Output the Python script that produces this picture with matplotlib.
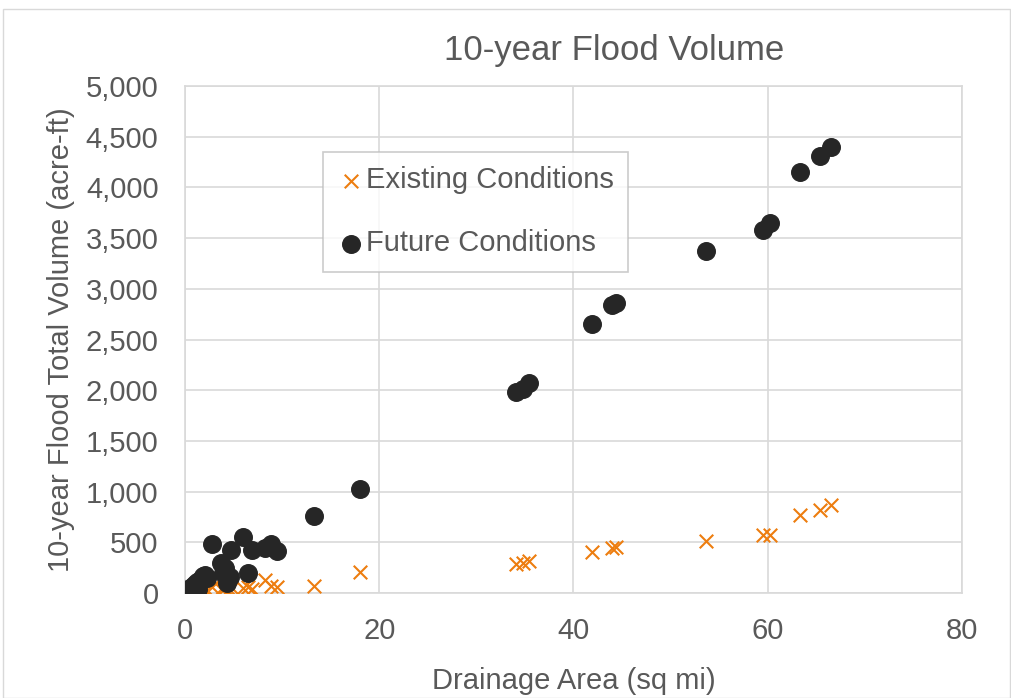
import matplotlib.pyplot as plt
from matplotlib.patches import Rectangle
from matplotlib.ticker import FuncFormatter

plt.rcParams["font.family"] = ["Liberation Sans", "DejaVu Sans"]

# drainage area (sq mi), same sites for both scenarios
area = [0.3, 0.5, 0.8, 1.0, 1.2, 1.3, 1.5, 1.9, 2.1, 2.3, 2.8, 3.7, 3.9, 4.1, 4.3,
        4.6, 4.7, 6.0, 6.5, 6.9, 8.2, 8.9, 9.5, 13.3, 18.0, 34.1, 34.8, 35.4,
        41.9, 44.0, 44.4, 53.6, 59.5, 60.2, 63.3, 65.4, 66.5]
future = [20, 50, 70, 90, 110, 40, 130, 170, 180, 150, 480, 300, 200, 250, 100,
          160, 420, 550, 200, 420, 440, 480, 415, 760, 1025, 1980, 2010, 2070,
          2650, 2840, 2860, 3370, 3580, 3650, 4150, 4310, 4400]
existing = [5, 10, 15, 20, 25, 10, 30, 35, 40, 30, 60, 40, 50, 45, 20,
            30, 60, 50, 60, 40, 125, 70, 55, 70, 210, 285, 300, 320,
            400, 440, 450, 510, 570, 570, 770, 820, 870]

TEXT = "#595959"
GRID = "#d9d9d9"

fig = plt.figure(figsize=(10.11, 6.98), dpi=100)
fig.patches.append(Rectangle((0.003, 0.0), 0.996, 0.987, transform=fig.transFigure,
                             fill=False, edgecolor=GRID, linewidth=1))
ax = fig.add_axes([0.183, 0.1504, 0.7685, 0.7264])

ax.scatter(area, existing, marker="x", s=95, color="#ED7D0F", linewidths=1.5,
           label="Existing Conditions", zorder=3)
ax.scatter(area, future, marker="o", s=160, color="#262626",
           label="Future Conditions", zorder=3)

ax.set_xlim(0, 80)
ax.set_ylim(0, 5000)
ax.set_xticks(range(0, 81, 20))
ax.set_yticks(range(0, 5001, 500))
ax.yaxis.set_major_formatter(FuncFormatter(lambda v, p: f"{int(v):,}"))
ax.grid(True, color=GRID, linewidth=1.2)
ax.set_axisbelow(True)
for s in ax.spines.values():
    s.set_color(GRID)
    s.set_linewidth(1.2)
ax.tick_params(length=0, labelsize=21, colors=TEXT)
ax.tick_params(axis="x", pad=17)
ax.tick_params(axis="y", pad=19)

ax.set_xlabel("Drainage Area (sq mi)", fontsize=21, color=TEXT, labelpad=16)
ax.set_ylabel("10-year Flood Total Volume (acre-ft)", fontsize=21, color=TEXT, labelpad=8)
fig.text(0.607, 0.928, "10-year Flood Volume", fontsize=25, color=TEXT,
         ha="center", va="center")

leg = ax.legend(loc="upper left", bbox_to_anchor=(0.178, 0.870), fontsize=21,
                frameon=True, fancybox=False, labelcolor=TEXT, handletextpad=0.05,
                borderpad=0.5, labelspacing=1.2, handlelength=0.9,
                borderaxespad=0)
leg.get_frame().set_edgecolor("#bfbfbf")
leg.get_frame().set_linewidth(1.2)

fig.savefig("out.png", dpi=100)
